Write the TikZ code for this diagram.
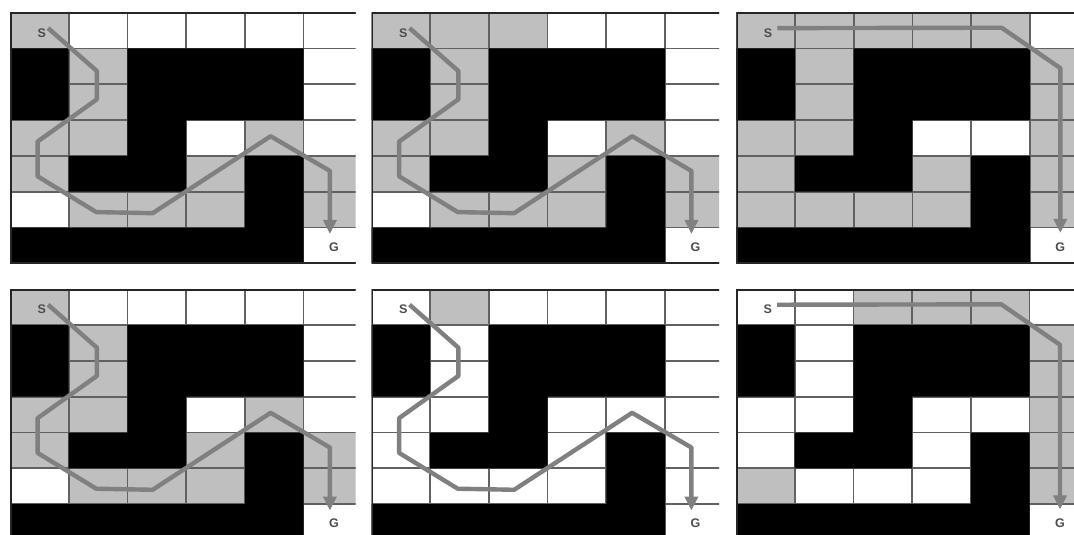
\documentclass[tikz,border=0pt]{standalone}
\usepackage{fontspec}
\setsansfont{Liberation Sans}
\usetikzlibrary{arrows.meta}

\tikzset{
  seen/.style={fill=black!25},
  wall/.style={fill=black},
  gridline/.style={draw=black!62,line width=1.7pt},
  rim/.style={draw=black!85,line width=3.4pt},
  lbl/.style={font=\fontsize{12.5}{14}\selectfont\sffamily\bfseries,text=black!70,inner sep=0pt},
  route/.style={draw=black!50,line width=4.4pt,line join=round,-{Triangle[width=13pt,length=14pt]}}
}

% #1 visible width (cells), #2 explored cells col/row
\newcommand{\maze}[2]{%
  \clip (0,0) rectangle (#1,7);
  \foreach \c/\r in {#2} \fill[seen] (\c,\r) rectangle ++(1,1);
  \foreach \i in {0,...,6} \draw[gridline] (\i,0) -- (\i,7);
  \foreach \j in {0,...,7} \draw[gridline] (0,\j) -- (6,\j);
  \fill[wall] (0,1) rectangle (1,3) (2,1) rectangle (5,3) (2,3) rectangle (3,5)
    (1,4) rectangle (3,5) (4,4) rectangle (5,7) (0,6) rectangle (5,7);
  \draw[rim] (6,0) -- (0,0) -- (0,7) -- (6,7);
}

\begin{document}
\begin{tikzpicture}[x=1pt,y=-1pt]
  \useasboundingbox (0,0) rectangle (1074,535);

  \begin{scope}[shift={(10,12.7)},x=58.7pt,y=-35.8pt]
    \maze{5.89}{0/0,1/1,1/2,0/3,1/3,4/3,0/4,3/4,5/4,1/5,2/5,3/5,5/5}
    \node[lbl] (s1) at (0.54,0.56) {S};
    \node[lbl] (g1) at (5.52,6.54) {G};
    \coordinate (t1) at (5.45,6.18);
    \draw[route] ([xshift=2pt]s1.north east) -- (1.48,1.63) -- (1.48,2.42) -- (0.47,3.6) -- (0.47,4.57)
      -- (1.47,5.57) -- (2.43,5.6) -- (4.44,3.45) -- (5.45,4.42) -- (t1);
  \end{scope}

  \begin{scope}[shift={(371.5,12.7)},x=58.7pt,y=-35.8pt]
    \maze{5.92}{0/0,1/0,2/0,1/1,1/2,0/3,1/3,4/3,0/4,3/4,5/4,1/5,2/5,3/5,5/5}
    \node[lbl] (s2) at (0.54,0.56) {S};
    \node[lbl] (g2) at (5.52,6.54) {G};
    \coordinate (t2) at (5.45,6.18);
    \draw[route] ([xshift=2pt]s2.north east) -- (1.48,1.63) -- (1.48,2.42) -- (0.47,3.6) -- (0.47,4.57)
      -- (1.47,5.57) -- (2.43,5.6) -- (4.44,3.45) -- (5.45,4.42) -- (t2);
  \end{scope}

  \begin{scope}[shift={(736.3,12.7)},x=58.7pt,y=-35.8pt]
    \maze{6}{0/0,1/0,2/0,3/0,4/0,1/1,5/1,1/2,5/2,0/3,1/3,5/3,0/4,3/4,5/4,0/5,1/5,2/5,3/5,5/5}
    \node[lbl] (s3) at (0.54,0.56) {S};
    \node[lbl] (g3) at (5.52,6.54) {G};
    \coordinate (t3) at (5.52,6.15);
    \draw[route] ([xshift=5pt]s3.north east) -- (4.52,0.42) -- (5.52,1.55) -- (t3);
  \end{scope}

  \begin{scope}[shift={(10,289.3)},x=58.7pt,y=-35.8pt]
    \maze{5.89}{0/0,1/1,1/2,0/3,1/3,4/3,0/4,3/4,5/4,1/5,2/5,3/5,5/5}
    \node[lbl] (s4) at (0.54,0.56) {S};
    \node[lbl] (g4) at (5.52,6.54) {G};
    \coordinate (t4) at (5.45,6.18);
    \draw[route] ([xshift=2pt]s4.north east) -- (1.48,1.63) -- (1.48,2.42) -- (0.47,3.6) -- (0.47,4.57)
      -- (1.47,5.57) -- (2.43,5.6) -- (4.44,3.45) -- (5.45,4.42) -- (t4);
  \end{scope}

  \begin{scope}[shift={(371.5,289.3)},x=58.7pt,y=-35.8pt]
    \maze{5.92}{1/0}
    \node[lbl] (s5) at (0.54,0.56) {S};
    \node[lbl] (g5) at (5.52,6.54) {G};
    \coordinate (t5) at (5.45,6.18);
    \draw[route] ([xshift=2pt]s5.north east) -- (1.48,1.63) -- (1.48,2.42) -- (0.47,3.6) -- (0.47,4.57)
      -- (1.47,5.57) -- (2.43,5.6) -- (4.44,3.45) -- (5.45,4.42) -- (t5);
  \end{scope}

  \begin{scope}[shift={(736,289.3)},x=58.7pt,y=-35.8pt]
    \maze{6}{2/0,3/0,4/0,5/1,5/2,5/3,5/4,0/5,5/5}
    \node[lbl] (s6) at (0.54,0.56) {S};
    \node[lbl] (g6) at (5.52,6.54) {G};
    \coordinate (t6) at (5.52,6.15);
    \draw[route] ([xshift=5pt]s6.north east) -- (4.52,0.42) -- (5.52,1.55) -- (t6);
  \end{scope}
\end{tikzpicture}
\end{document}
